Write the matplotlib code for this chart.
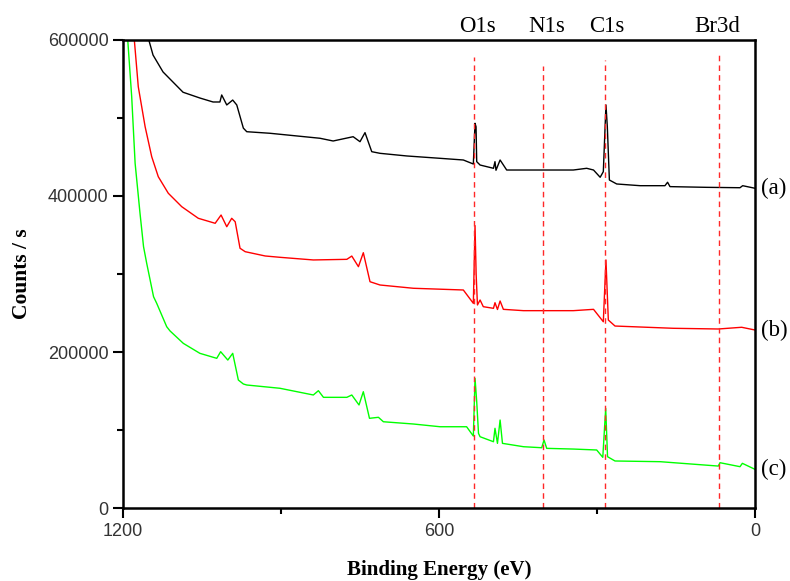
import numpy as np
import matplotlib
matplotlib.use("Agg")
import matplotlib.pyplot as plt
import matplotlib.transforms as mtransforms

plt.rcParams["font.family"] = "Liberation Sans"

# survey spectra, digitised as (binding energy eV, counts/s)
be_a = [1151, 1143, 1124, 1105, 1086, 1054, 1029, 1016, 1012.6, 1003, 991.7, 984,
        971.5, 965, 921, 826, 801, 763, 750, 740.5, 727.7, 712, 661, 598, 553.8,
        534.8, 531.6, 529.7, 528.4, 522, 496.6, 493.7, 491.8, 484, 471.5, 408,
        345, 319.6, 306.6, 294, 288, 283, 280.4, 276.5, 262.6, 218, 171, 166,
        161.4, 91.7, 28.5, 23.4, 0]
cps_a = [600000, 580700, 559000, 546000, 533000, 525600, 520500, 520500, 529500,
         516700, 523000, 516700, 487000, 482400, 480400, 474000, 470500, 476000,
         469600, 481200, 456800, 454700, 451300, 448300, 446150, 441000, 493200,
         488800, 444000, 439700, 435500, 444000, 433000, 446150, 433300, 433300,
         433300, 435500, 433300, 424000, 431200, 516700, 488800, 420500, 415400,
         413200, 413200, 417600, 412000, 411100, 410600, 413200, 409900]

be_b = [1178.5, 1171, 1158, 1145.5, 1133, 1114, 1088.5, 1057, 1025, 1013.8, 1003,
        993.6, 987, 977.8, 968, 930, 902, 838.6, 775, 765.6, 753, 743.7, 731, 712,
        648.6, 553.8, 534.8, 531.6, 529.5, 527, 522, 515.9, 496.6, 493.7, 489,
        484, 477.8, 439.6, 345, 306.6, 288, 283, 278.5, 265.8, 155, 69.7, 25.3, 0]
cps_b = [600000, 540100, 488800, 450400, 424700, 403500, 386300, 371400, 365000,
         375600, 360600, 371400, 367000, 333000, 328600, 323100, 321400, 318000,
         318800, 323000, 309400, 327300, 290100, 285900, 281700, 279500, 262400,
         362000, 300000, 260300, 266700, 258100, 256000, 263200, 254500, 265400,
         254700, 253000, 253000, 254700, 238800, 318000, 241000, 233300, 230400,
         229500, 231700, 228200]

be_c = [1191, 1183.5, 1177, 1167.7, 1161, 1155, 1142, 1136, 1117, 1110.7, 1085.5,
        1054, 1022, 1014.6, 1001, 991.7, 981, 971.5, 965, 902, 838.6, 829, 819.4,
        775, 765.6, 751.9, 743.7, 732, 715, 705.6, 648.6, 598, 547.6, 534.8,
        531.6, 528.4, 525, 522, 496.6, 493.7, 489, 484, 479.5, 439.6, 405, 400.6,
        395.5, 345, 300.6, 289, 283.5, 280, 265.8, 180, 69.7, 66.5, 28.5, 24, 0]
cps_c = [600000, 527300, 442000, 377800, 335000, 313700, 270900, 262400, 232400,
         227000, 211100, 198300, 191900, 200400, 189700, 198300, 164100, 159000,
         157700, 153500, 144900, 150400, 141900, 141900, 144900, 132100, 149100,
         115000, 116300, 110600, 107700, 104200, 104200, 92300, 166300, 136300,
         95700, 91400, 85000, 102200, 82900, 112800, 82900, 78600, 77300, 87200,
         76500, 75600, 74400, 65000, 127800, 65800, 60300, 59400, 53800, 58100,
         53000, 57300, 49600]

curve_names = ["(a)", "(b)", "(c)"]
curve_colors = ["black", "red", "#00ff00"]

peak_names = ["O1s", "N1s", "C1s", "Br3d"]
peak_be = [533, 402, 285, 68]
peak_top = [578000, 567000, 574000, 582000]
peak_label_be = [527, 395, 281, 72]

fig = plt.figure(figsize=(7.9, 5.81), dpi=100)
ax = fig.add_axes([0.1557, 0.1256, 0.8, 0.8056])

for be, cps, col in zip([be_a, be_b, be_c], [cps_a, cps_b, cps_c], curve_colors):
    ax.plot(be, cps, color=col, lw=1.0)

for x, top in zip(peak_be, peak_top):
    ax.vlines(x, 0, top, colors="#ff2828", linestyles=(0, (4, 3)), lw=1.0)

ax.set_xlim(1200, 0)
ax.set_ylim(0, 600000)
ax.set_xticks([1200, 600, 0])
ax.set_xticks([900, 300], minor=True)
ax.set_yticks([0, 200000, 400000, 600000])
ax.set_yticks([100000, 300000, 500000], minor=True)
ax.tick_params(which="major", direction="out", length=7, width=1.5,
               labelsize=13, labelcolor="#333333")
ax.tick_params(which="minor", direction="out", length=4, width=1.5)
for s in ax.spines.values():
    s.set_linewidth(1.8)

serif = "Liberation Serif"
ax.set_xlabel("Binding Energy (eV)", family=serif, fontsize=15, fontweight="bold",
              labelpad=15)
ax.set_ylabel("Counts / s", family=serif, fontsize=15.5, fontweight="bold",
              labelpad=11)

# peak assignments above the frame
trans_top = mtransforms.blended_transform_factory(ax.transData, ax.transAxes)
for name, x in zip(peak_names, peak_label_be):
    ax.text(x, 1.006, name, transform=trans_top, family=serif, fontsize=16.5,
            ha="center", va="bottom")

# sample labels on the right, level with each curve's end
trans_right = mtransforms.blended_transform_factory(ax.transAxes, ax.transData)
for name, cps in zip(curve_names, [cps_a[-1], cps_b[-1], cps_c[-1]]):
    ax.text(1.01, cps, name, transform=trans_right, family=serif, fontsize=16.5,
            ha="left", va="center")

fig.savefig("out.png", dpi=100)
